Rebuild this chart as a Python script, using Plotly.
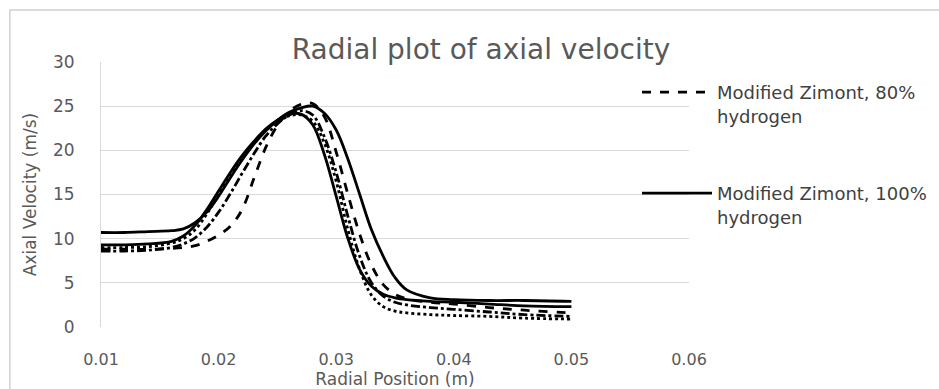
import plotly.graph_objects as go

# Radial position (m)
radial_position = [0.010, 0.012, 0.014, 0.016, 0.017, 0.018, 0.019, 0.020, 0.021, 0.022,
                   0.023, 0.024, 0.025, 0.026, 0.027, 0.028, 0.029, 0.030, 0.031, 0.032,
                   0.033, 0.034, 0.035, 0.036, 0.038, 0.040, 0.043, 0.046, 0.050]

# Axial velocity (m/s)
zimont_100_h2 = [10.7, 10.7, 10.8, 10.9, 11.1, 11.8, 13.0, 14.8, 16.9, 18.9,
                 20.7, 22.2, 23.4, 24.3, 24.8, 25.0, 24.2, 22.3, 19.0, 15.0,
                 11.0, 8.0, 5.6, 4.2, 3.3, 3.1, 3.0, 3.0, 2.9]
zimont_80_h2 = [8.8, 8.8, 8.8, 8.9, 9.0, 9.2, 9.7, 10.4, 11.4, 13.3,
                16.8, 20.3, 22.8, 24.4, 25.2, 25.3, 23.8, 19.8, 15.0, 10.5,
                7.0, 4.8, 3.7, 3.2, 2.8, 2.6, 2.2, 1.9, 1.6]
series_c = [9.3, 9.3, 9.4, 9.7, 10.3, 11.5, 13.3, 15.4, 17.5, 19.4,
            21.0, 22.4, 23.4, 24.1, 24.1, 22.9, 19.5, 14.8, 10.0, 6.5,
            4.6, 3.7, 3.3, 3.1, 2.9, 2.8, 2.6, 2.4, 2.3]
series_d = [9.0, 9.0, 9.1, 9.5, 10.0, 11.0, 12.8, 15.0, 17.2, 19.2,
            20.9, 22.3, 23.3, 23.9, 24.0, 23.3, 20.8, 16.5, 11.0, 6.5,
            3.6, 2.3, 1.8, 1.6, 1.4, 1.3, 1.2, 1.0, 0.9]
series_e = [8.6, 8.6, 8.7, 9.0, 9.4, 10.1, 11.3, 13.0, 15.1, 17.4,
            19.6, 21.6, 23.0, 24.0, 24.5, 24.0, 21.5, 17.5, 12.5, 8.0,
            5.0, 3.5, 2.8, 2.5, 2.2, 2.0, 1.7, 1.4, 1.2]

x_ticks = [0.01, 0.02, 0.03, 0.04, 0.05, 0.06]
x_tick_text = ["0.01", "0.02", "0.03", "0.04", "0.05", "0.06"]
y_ticks = [0, 5, 10, 15, 20, 25, 30]

FONT = "DejaVu Sans"
GRAY = "#595959"
LW = 2.8

fig = go.Figure()

fig.add_trace(go.Scatter(x=radial_position, y=series_c, mode="lines", showlegend=False,
                         line=dict(color="black", width=LW, shape="spline")))
fig.add_trace(go.Scatter(x=radial_position, y=series_d, mode="lines", showlegend=False,
                         line=dict(color="black", width=LW, dash="dot", shape="spline")))
fig.add_trace(go.Scatter(x=radial_position, y=series_e, mode="lines", showlegend=False,
                         line=dict(color="black", width=LW, dash="dashdot", shape="spline")))
fig.add_trace(go.Scatter(x=radial_position, y=zimont_80_h2, mode="lines",
                         name="Modified Zimont, 80%<br>hydrogen", legend="legend",
                         line=dict(color="black", width=LW, dash="dash", shape="spline")))
fig.add_trace(go.Scatter(x=radial_position, y=zimont_100_h2, mode="lines",
                         name="Modified Zimont, 100%<br>hydrogen", legend="legend2",
                         line=dict(color="black", width=LW, shape="spline")))

# outer chart border
fig.add_shape(type="rect", xref="paper", yref="paper",
              x0=-0.155, x1=1.45, y0=-0.3, y1=1.196,
              line=dict(color="#d0d0d0", width=1.5), fillcolor="rgba(0,0,0,0)")

legend_common = dict(xanchor="left", yanchor="top", valign="top",
                     font=dict(family=FONT, size=18, color="#404040"),
                     bgcolor="rgba(0,0,0,0)", itemwidth=70, tracegroupgap=0)

fig.update_layout(
    width=939, height=389,
    margin=dict(l=101, r=250, t=62, b=62, autoexpand=False),
    paper_bgcolor="white", plot_bgcolor="white",
    font=dict(family=FONT, color=GRAY),
    title=dict(text="Radial plot of axial velocity", x=481 / 939, xanchor="center",
               y=1 - 49 / 389, yanchor="middle",
               font=dict(family=FONT, size=28, color=GRAY)),
    xaxis=dict(range=[0.01, 0.06], tickvals=x_ticks, ticktext=x_tick_text,
               showgrid=False, zeroline=False, showline=False, ticks="",
               ticklabelstandoff=21, automargin=False,
               tickfont=dict(family=FONT, size=16, color=GRAY),
               title=dict(text="Radial Position (m)", standoff=4,
                          font=dict(family=FONT, size=17, color=GRAY))),
    yaxis=dict(range=[0, 30], tickvals=y_ticks, showgrid=True, gridcolor="#d9d9d9",
               gridwidth=1, zeroline=False, showline=True, linecolor="#d9d9d9",
               ticks="", ticklabelstandoff=22, automargin=False,
               tickfont=dict(family=FONT, size=17, color=GRAY),
               title=dict(text="Axial Velocity (m/s)", standoff=12,
                          font=dict(family=FONT, size=17, color=GRAY))),
    legend=dict(x=(637 - 101) / 588, y=(327 - 74) / 265, **legend_common),
    legend2=dict(x=(637 - 101) / 588, y=(327 - 175) / 265, **legend_common),
)

fig.write_html("out.html")
